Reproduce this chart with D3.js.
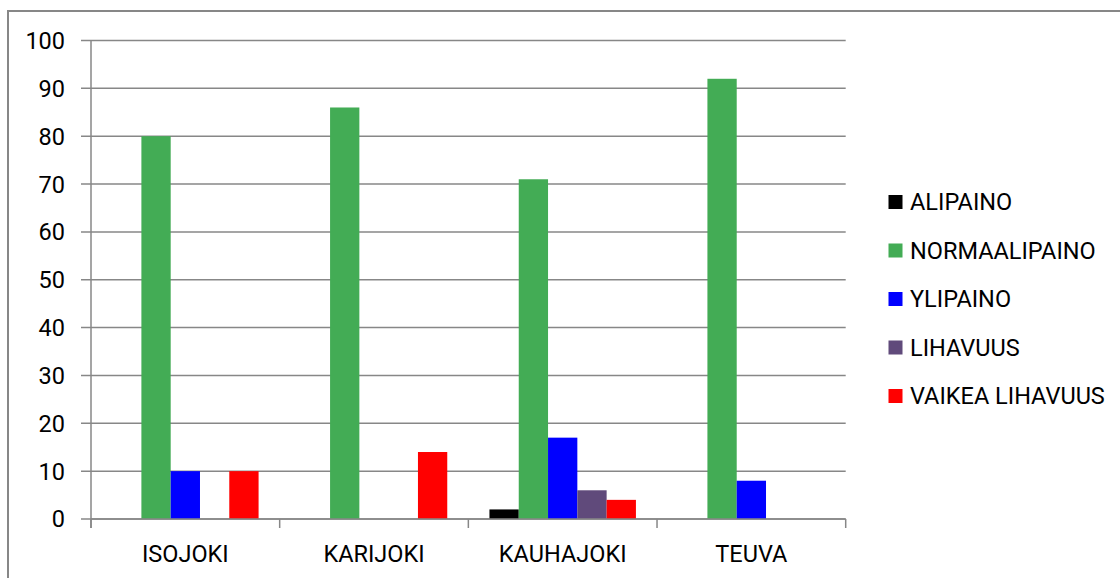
<!DOCTYPE html>
<html>
<head>
<meta charset="utf-8">
<script src="https://cdn.jsdelivr.net/npm/d3@7"></script>
<style>
  html, body { margin: 0; padding: 0; background: #fff; }
  svg { display: block; }
  text { font-family: Roboto, "Liberation Sans", Arial, sans-serif; fill: #000; }
</style>
</head>
<body>
<svg id="chart" width="1120" height="578"></svg>
<script>
const categories = ["ISOJOKI", "KARIJOKI", "KAUHAJOKI", "TEUVA"];
const seriesNames = ["ALIPAINO", "NORMAALIPAINO", "YLIPAINO", "LIHAVUUS", "VAIKEA LIHAVUUS"];
const seriesColors = ["#000000", "#43AC55", "#0000FF", "#604A7B", "#FF0000"];
const alipaino = [0, 0, 2, 0];
const normaalipaino = [80, 86, 71, 92];
const ylipaino = [10, 0, 17, 8];
const lihavuus = [0, 0, 6, 0];
const vaikeaLihavuus = [10, 14, 4, 0];
const yTicks = [0, 10, 20, 30, 40, 50, 60, 70, 80, 90, 100];

const seriesValues = [alipaino, normaalipaino, ylipaino, lihavuus, vaikeaLihavuus];

const svg = d3.select("#chart");
const plot = { left: 91, right: 845.7, top: 40.5, bottom: 519 };
const fontSize = 23.5;

// outer border
svg.append("rect")
  .attr("x", 8).attr("y", 11)
  .attr("width", 1125).attr("height", 600)
  .attr("fill", "none")
  .attr("stroke", "#878787")
  .attr("stroke-width", 2);

const y = d3.scaleLinear().domain([0, 100]).range([plot.bottom, plot.top]);
const x0 = d3.scaleBand().domain(categories).range([plot.left, plot.right]).padding(0);
const x1 = d3.scaleBand().domain(seriesNames).range([0, x0.bandwidth()]).paddingInner(0).paddingOuter(0.72);

// gridlines
svg.append("g").selectAll("line").data(yTicks).join("line")
  .attr("x1", plot.left - 10).attr("x2", plot.right)
  .attr("y1", d => y(d)).attr("y2", d => y(d))
  .attr("stroke", "#878787").attr("stroke-width", 1.5);

// y tick labels
svg.append("g").selectAll("text").data(yTicks).join("text")
  .attr("x", 65).attr("y", d => y(d))
  .attr("dy", "0.36em")
  .attr("text-anchor", "end")
  .attr("font-size", fontSize)
  .text(d => d);

// bars
const barData = [];
categories.forEach((c, ci) => {
  seriesNames.forEach((s, si) => {
    barData.push({ cat: c, ser: s, value: seriesValues[si][ci], color: seriesColors[si] });
  });
});
svg.append("g").selectAll("rect").data(barData.filter(d => d.value > 0)).join("rect")
  .attr("x", d => x0(d.cat) + x1(d.ser))
  .attr("y", d => y(d.value))
  .attr("width", x1.bandwidth())
  .attr("height", d => y(0) - y(d.value))
  .attr("fill", d => d.color);

// axes lines
svg.append("line")
  .attr("x1", plot.left).attr("x2", plot.left)
  .attr("y1", plot.top).attr("y2", plot.bottom + 9)
  .attr("stroke", "#878787").attr("stroke-width", 1.5);
svg.append("line")
  .attr("x1", plot.left).attr("x2", plot.right)
  .attr("y1", plot.bottom).attr("y2", plot.bottom)
  .attr("stroke", "#878787").attr("stroke-width", 1.5);
const boundaries = categories.map(c => x0(c)).concat([plot.right]);
svg.append("g").selectAll("line").data(boundaries).join("line")
  .attr("x1", d => d).attr("x2", d => d)
  .attr("y1", plot.bottom).attr("y2", plot.bottom + 9)
  .attr("stroke", "#878787").attr("stroke-width", 1.5);

// category labels
svg.append("g").selectAll("text").data(categories).join("text")
  .attr("x", d => x0(d) + x0.bandwidth() / 2)
  .attr("y", 562)
  .attr("text-anchor", "middle")
  .attr("font-size", fontSize)
  .text(d => d);

// legend
const legend = svg.append("g");
const legendY0 = 202, legendStep = 48.5;
seriesNames.forEach((s, i) => {
  const cy = legendY0 + i * legendStep;
  legend.append("rect")
    .attr("x", 888.5).attr("y", cy - 7)
    .attr("width", 14).attr("height", 14)
    .attr("fill", seriesColors[i]);
  legend.append("text")
    .attr("x", 910).attr("y", cy)
    .attr("dy", "0.36em")
    .attr("font-size", fontSize)
    .text(s);
});
</script>
</body>
</html>
